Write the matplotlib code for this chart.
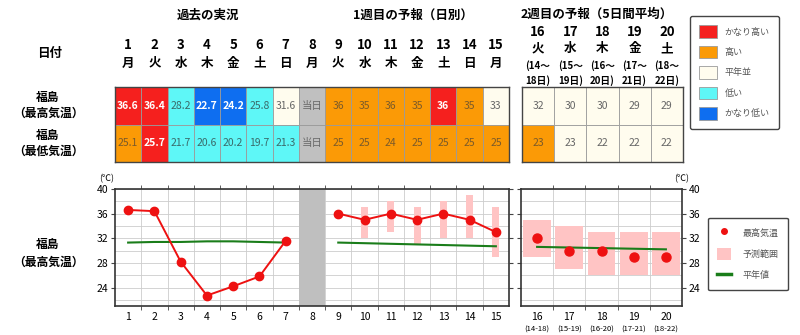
import matplotlib
matplotlib.use('Agg')
import matplotlib.pyplot as plt
from matplotlib.patches import Rectangle, Patch
from matplotlib.lines import Line2D

plt.rcParams['font.family'] = ['Noto Sans CJK JP', 'DejaVu Sans']

W, H = 800, 335

# ---- data ----
days_w1 = list(range(1, 16))
weekdays_w1 = ['月', '火', '水', '木', '金', '土', '日', '月',
               '火', '水', '木', '金', '土', '日', '月']
days_w2 = [16, 17, 18, 19, 20]
weekdays_w2 = ['火', '水', '木', '金', '土']
span_start_w2 = [14, 15, 16, 17, 18]
span_end_w2 = [18, 19, 20, 21, 22]

days_past = [1, 2, 3, 4, 5, 6, 7]
days_fc = [9, 10, 11, 12, 13, 14, 15]
tmax_past = [36.6, 36.4, 28.2, 22.7, 24.2, 25.8, 31.6]
tmin_past = [25.1, 25.7, 21.7, 20.6, 20.2, 19.7, 21.3]
tmax_w1 = [36, 35, 36, 35, 36, 35, 33]
tmin_w1 = [25, 25, 24, 25, 25, 25, 25]
tmax_w2 = [32, 30, 30, 29, 29]
tmin_w2 = [23, 23, 22, 22, 22]

# class per cell: vh=かなり高い h=高い n=平年並 l=低い vl=かなり低い
cls_max_w1 = ['vh', 'vh', 'l', 'vl', 'vl', 'l', 'n', 'today',
              'h', 'h', 'h', 'h', 'vh', 'h', 'n']
cls_min_w1 = ['h', 'vh', 'l', 'l', 'l', 'l', 'l', 'today',
              'h', 'h', 'h', 'h', 'h', 'h', 'h']
cls_max_w2 = ['n', 'n', 'n', 'n', 'n']
cls_min_w2 = ['h', 'n', 'n', 'n', 'n']

normal_past = [31.3, 31.4, 31.4, 31.5, 31.5, 31.4, 31.3]
normal_w1 = [31.3, 31.2, 31.1, 31.0, 30.9, 30.8, 30.7]
normal_w2 = [30.6, 30.5, 30.4, 30.3, 30.2]

days_rng_w1 = [10, 11, 12, 13, 14, 15]
rng_lo_w1 = [32, 33, 31, 32, 32, 29]
rng_hi_w1 = [37, 38, 37, 38, 39, 37]
rng_lo_w2 = [29, 27, 26, 26, 26]
rng_hi_w2 = [35, 34, 33, 33, 33]

cls_names = ['vh', 'h', 'n', 'l', 'vl']
cls_labels = ['かなり高い', '高い', '平年並', '低い', 'かなり低い']
colors = {'vh': '#f5201e', 'h': '#fb9a06', 'n': '#fffcee',
          'l': '#5ef7f7', 'vl': '#0e6ef0', 'today': '#c0c0c0'}
txt_colors = {'vh': 'white', 'h': '#7a5a2a', 'n': '#666666',
              'l': '#3a6a6a', 'vl': 'white', 'today': '#6a6a6a'}


def px(x0, y0, x1, y1):
    return [x0 / W, 1 - y1 / H, (x1 - x0) / W, (y1 - y0) / H]


def ftext(x, y, s, **kw):
    kw.setdefault('ha', 'center')
    kw.setdefault('va', 'center')
    fig.text(x / W, 1 - y / H, s, **kw)


def cell_str(v):
    if isinstance(v, float):
        return '%.1f' % v
    return '%d' % v


def draw_table(ax, days, rows, row_cls):
    for r, (vals, cls) in enumerate(zip(rows, row_cls)):
        for d, v, c in zip(days, vals, cls):
            ax.add_patch(Rectangle((d - 0.5, r), 1, 1, facecolor=colors[c],
                                   edgecolor='#9a9a9a', lw=0.6))
            s = '当日' if c == 'today' else cell_str(v)
            bold = c in ('vh', 'vl')
            ax.text(d, r + 0.5, s, ha='center', va='center', fontsize=7.5,
                    color=txt_colors[c],
                    fontweight='bold' if bold else 'normal')
    ax.set_xlim(days[0] - 0.5, days[-1] + 0.5)
    ax.set_ylim(2, 0)
    ax.set_xticks([])
    ax.set_yticks([])
    for sp in ax.spines.values():
        sp.set_color('#444444')
        sp.set_linewidth(1.0)


fig = plt.figure(figsize=(8, 3.35), dpi=100)

# ---- tables ----
t1 = fig.add_axes(px(115, 87, 509, 162))
row_max = tmax_past + [None] + tmax_w1
row_min = tmin_past + [None] + tmin_w1
draw_table(t1, days_w1, [row_max, row_min], [cls_max_w1, cls_min_w1])
for d, wd in zip(days_w1, weekdays_w1):
    t1.text(d, -1.12, str(d), ha='center', va='center', fontsize=9.5,
            fontweight='bold', clip_on=False)
    t1.text(d, -0.64, wd, ha='center', va='center', fontsize=9,
            fontweight='bold', clip_on=False)

t2 = fig.add_axes(px(522, 87, 683, 162))
draw_table(t2, days_w2, [tmax_w2, tmin_w2], [cls_max_w2, cls_min_w2])
for d, wd, a, b in zip(days_w2, weekdays_w2, span_start_w2, span_end_w2):
    t2.text(d, -1.47, str(d), ha='center', va='center', fontsize=9.5,
            fontweight='bold', clip_on=False)
    t2.text(d, -1.02, wd, ha='center', va='center', fontsize=9,
            fontweight='bold', clip_on=False)
    t2.text(d, -0.58, '(%d～' % a, ha='center', va='center', fontsize=7,
            fontweight='bold', clip_on=False)
    t2.text(d, -0.18, '%d日)' % b, ha='center', va='center', fontsize=7,
            fontweight='bold', clip_on=False)

ftext(208, 15, '過去の実況', fontsize=9, fontweight='bold')
ftext(413, 15, '1週目の予報（日別）', fontsize=9, fontweight='bold')
ftext(597, 14, '2週目の予報（5日間平均）', fontsize=9, fontweight='bold')
ftext(50, 53, '日付', fontsize=9, fontweight='bold')
ftext(48, 97, '福島', fontsize=8.5, fontweight='bold')
ftext(48, 113, '（最高気温）', fontsize=8.5, fontweight='bold')
ftext(48, 135, '福島', fontsize=8.5, fontweight='bold')
ftext(48, 151, '（最低気温）', fontsize=8.5, fontweight='bold')
ftext(48, 244, '福島', fontsize=8.5, fontweight='bold')
ftext(48, 262, '（最高気温）', fontsize=8.5, fontweight='bold')

# colour legend of the table
fig.legend(handles=[Patch(facecolor=colors[c], edgecolor='#9a9a9a', lw=0.6)
                    for c in cls_names],
           labels=cls_labels, loc='center', bbox_to_anchor=(734.5 / W, 1 - 72.5 / H),
           fontsize=6.5, labelcolor='#555555', handlelength=1.9, handleheight=1.8,
           labelspacing=0.85, borderpad=1.0, handletextpad=0.9,
           fancybox=True, edgecolor='#444444', framealpha=1)


# ---- charts ----
def style_chart(ax, days):
    ax.set_ylim(21, 40)
    ax.set_xlim(days[0] - 0.5, days[-1] + 0.5)
    ax.set_yticks([24, 28, 32, 36, 40])
    ax.set_yticks(range(22, 40, 2), minor=True)
    ax.set_xticks(days, labels=[])
    ax.set_xticks([d + 0.5 for d in days[:-1]], minor=True)
    ax.grid(axis='y', which='both', color='#cccccc', lw=0.6, zorder=0)
    ax.grid(axis='x', which='minor', color='#cccccc', lw=0.6, zorder=0)
    ax.tick_params(axis='x', which='major', length=0)
    ax.tick_params(axis='x', which='minor', length=3, top=True,
                   direction='out', color='#444444')
    ax.tick_params(axis='y', which='minor', length=0)
    ax.tick_params(axis='y', which='major', length=3, left=True, right=True,
                   labelsize=7.5, color='#444444', pad=2)
    for sp in ax.spines.values():
        sp.set_color('#333333')
        sp.set_linewidth(1.2)
    ax.set_axisbelow(True)


c1 = fig.add_axes(px(115, 189, 509, 306))
style_chart(c1, days_w1)
c1.axvspan(7.5, 8.5, color='#bfbfbf', zorder=1, lw=0)
c1.bar(days_rng_w1, [h - l for h, l in zip(rng_hi_w1, rng_lo_w1)],
       bottom=rng_lo_w1, width=0.27, color='#ffc4c4', zorder=2)
c1.plot(days_past, normal_past, color='#1a7d1a', lw=1.5, zorder=3)
c1.plot(days_fc, normal_w1, color='#1a7d1a', lw=1.5, zorder=3)
c1.plot(days_past, tmax_past, '-o', color='#ee1111', lw=1.4, ms=6, zorder=4)
c1.plot(days_fc, tmax_w1, '-o', color='#ee1111', lw=1.4, ms=6, zorder=4)
c1.tick_params(axis='y', labelleft=True, labelright=False)
for d in days_w1:
    c1.text(d, -0.095, str(d), transform=c1.get_xaxis_transform(),
            ha='center', va='center', fontsize=7.5)
c1.text(-0.02, 1.09, '(℃)', transform=c1.transAxes, ha='center',
        va='center', fontsize=6.5)

c2 = fig.add_axes(px(521, 189, 682, 306))
style_chart(c2, days_w2)
c2.bar(days_w2, [h - l for h, l in zip(rng_hi_w2, rng_lo_w2)],
       bottom=rng_lo_w2, width=0.86, color='#ffc4c4', zorder=2)
c2.plot(days_w2, normal_w2, color='#1a7d1a', lw=1.5, zorder=3)
c2.plot(days_w2, tmax_w2, 'o', color='#ee1111', ms=6.5, zorder=4)
c2.tick_params(axis='y', labelleft=False, labelright=True)
for d, a, b in zip(days_w2, span_start_w2, span_end_w2):
    c2.text(d, -0.095, str(d), transform=c2.get_xaxis_transform(),
            ha='center', va='center', fontsize=7.5)
    c2.text(d, -0.2, '(%d-%d)' % (a, b), transform=c2.get_xaxis_transform(),
            ha='center', va='center', fontsize=5.5)
c2.text(1.0, 1.09, '(℃)', transform=c2.transAxes, ha='center',
        va='center', fontsize=6.5)

fig.legend(handles=[Line2D([], [], marker='o', ls='none', color='#ee1111', ms=4),
                    Patch(facecolor='#ffc4c4'),
                    Line2D([], [], color='#1a7d1a', lw=2.5)],
           labels=['最高気温', '予測範囲', '平年値'], loc='center',
           bbox_to_anchor=(748 / W, 1 - 254 / H), fontsize=6.5,
           labelcolor='#555555', handlelength=1.5, handleheight=1.6,
           labelspacing=1.1, borderpad=1.0, handletextpad=1.3,
           fancybox=True, edgecolor='#444444', framealpha=1)

fig.savefig('out.png', dpi=100)
